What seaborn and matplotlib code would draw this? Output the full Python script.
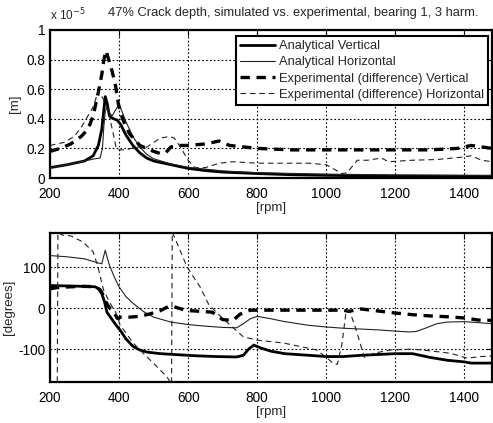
import matplotlib
matplotlib.use("Agg")
import matplotlib.pyplot as plt
import seaborn as sns
import pandas as pd

# ---------------- data ----------------
# amplitude (units of 1e-5 m) vs rpm
rpm_av_amp = [200, 250, 300, 325, 340, 350, 355, 360, 366, 372, 380, 395, 405, 420, 440, 460, 480, 500, 550, 600, 650, 700, 800, 900, 1000, 1100, 1200, 1300, 1400, 1480]
av_amp = [0.07, 0.09, 0.115, 0.15, 0.22, 0.33, 0.44, 0.55, 0.5, 0.42, 0.405, 0.39, 0.36, 0.29, 0.22, 0.17, 0.135, 0.115, 0.09, 0.065, 0.05, 0.04, 0.03, 0.022, 0.018, 0.015, 0.013, 0.012, 0.011, 0.01]

rpm_ah_amp = [200, 250, 300, 330, 345, 352, 356, 360, 366, 372, 380, 390, 398, 405, 420, 440, 460, 480, 500, 550, 600, 700, 800, 1000, 1200, 1480]
ah_amp = [0.07, 0.09, 0.115, 0.13, 0.135, 0.2, 0.35, 0.45, 0.48, 0.44, 0.42, 0.46, 0.49, 0.47, 0.38, 0.28, 0.21, 0.16, 0.13, 0.095, 0.072, 0.048, 0.036, 0.026, 0.021, 0.018]

rpm_ev_amp = [200, 230, 260, 290, 310, 325, 340, 350, 356, 362, 370, 380, 390, 398, 410, 430, 460, 480, 500, 520, 535, 550, 575, 600, 650, 690, 720, 800, 900, 1000, 1100, 1200, 1300, 1380, 1420, 1480]
ev_amp = [0.18, 0.2, 0.23, 0.28, 0.33, 0.42, 0.58, 0.7, 0.8, 0.86, 0.8, 0.72, 0.62, 0.5, 0.4, 0.3, 0.22, 0.2, 0.18, 0.165, 0.17, 0.21, 0.22, 0.22, 0.23, 0.25, 0.22, 0.2, 0.19, 0.19, 0.19, 0.19, 0.19, 0.2, 0.22, 0.2]

rpm_eh_amp = [200, 240, 270, 290, 310, 325, 340, 355, 370, 383, 392, 400, 420, 450, 475, 500, 520, 545, 560, 580, 600, 620, 650, 690, 730, 800, 860, 950, 1000, 1030, 1045, 1060, 1090, 1120, 1160, 1180, 1250, 1320, 1390, 1420, 1450, 1480]
eh_amp = [0.22, 0.24, 0.28, 0.34, 0.42, 0.48, 0.59, 0.53, 0.44, 0.3, 0.2, 0.19, 0.19, 0.21, 0.2, 0.24, 0.27, 0.28, 0.27, 0.2, 0.12, 0.07, 0.07, 0.1, 0.11, 0.1, 0.1, 0.1, 0.09, 0.05, 0.03, 0.035, 0.12, 0.12, 0.135, 0.11, 0.12, 0.125, 0.14, 0.15, 0.12, 0.11]

# phase (degrees) vs rpm
rpm_av_ph = [200, 250, 300, 330, 340, 350, 358, 365, 375, 390, 405, 420, 440, 460, 480, 520, 560, 620, 680, 740, 760, 775, 790, 810, 840, 880, 950, 1000, 1050, 1100, 1200, 1250, 1300, 1350, 1400, 1420, 1480]
av_ph = [55, 54, 53, 52, 48, 35, 15, -10, -22, -40, -56, -75, -93, -102, -107, -111, -113, -116, -118, -119, -115, -100, -90, -97, -105, -111, -115, -118, -118, -115, -111, -111, -120, -127, -131, -134, -134]

rpm_ah_ph = [200, 250, 300, 340, 350, 355, 360, 365, 372, 385, 400, 420, 440, 470, 500, 550, 600, 650, 700, 740, 760, 780, 800, 840, 880, 950, 1000, 1050, 1100, 1150, 1200, 1240, 1260, 1290, 1320, 1350, 1400, 1450, 1480]
ah_ph = [128, 125, 120, 110, 108, 125, 141, 125, 105, 78, 52, 28, 12, -8, -22, -34, -40, -44, -47, -48, -38, -26, -20, -26, -33, -42, -46, -49, -51, -53, -56, -58, -57, -48, -38, -34, -33, -36, -38]

rpm_ev_ph = [200, 220, 260, 300, 330, 345, 355, 365, 375, 385, 395, 405, 430, 460, 490, 520, 545, 560, 580, 600, 640, 670, 700, 730, 750, 780, 850, 950, 1000, 1050, 1065, 1100, 1150, 1200, 1250, 1300, 1350, 1400, 1440, 1480]
ev_ph = [47, 50, 52, 53, 52, 45, 30, 10, -2, -10, -25, -22, -22, -20, -14, -6, 5, 3, -2, -6, -8, -10, -28, -30, -15, -5, -5, -5, -5, -5, -8, -2, -7, -12, -16, -19, -21, -24, -29, -30]

rpm_eh_ph = [200, 221, 223, 235, 260, 296, 325, 340, 355, 374, 390, 403, 441, 470, 510, 539, 552, 554, 568, 597, 635, 660, 700, 760, 800, 876, 973, 1020, 1032, 1045, 1058, 1068, 1084, 1098, 1110, 1137, 1186, 1250, 1300, 1360, 1408, 1446, 1480]
eh_ph = [-185, -185, 185, 178, 176, 161, 137, 97, 44, 12, -10, -41, -85, -110, -143, -168, -185, 185, 158, 100, 51, 8, -25, -70, -78, -85, -102, -134, -137, -90, -5, -8, -46, -85, -120, -110, -102, -100, -104, -110, -122, -118, -117]

labels = ["Analytical Vertical", "Analytical Horizontal",
          "Experimental (difference) Vertical", "Experimental (difference) Horizontal"]
xticks = [200, 400, 600, 800, 1000, 1200, 1400]
amp_yticks = [0, 0.2, 0.4, 0.6, 0.8, 1]
amp_yticklabels = ["0", "0.2", "0.4", "0.6", "0.8", "1"]
ph_yticks = [-100, 0, 100]

# ---------------- style ----------------
sns.set_style("white")
plt.rcParams["font.family"] = ["Liberation Sans", "DejaVu Sans"]
plt.rcParams["xtick.direction"] = "in"
plt.rcParams["ytick.direction"] = "in"
plt.rcParams["axes.unicode_minus"] = False

styles = [
    dict(lw=2.0, ls="-", color="black"),
    dict(lw=0.8, ls="-", color="#222222"),
    dict(lw=2.4, ls=(0, (2.8, 2.0)), color="black"),
    dict(lw=0.8, ls=(0, (5, 3.5)), color="#222222"),
]

fig = plt.figure(figsize=(4.93, 4.23), dpi=100)
ax1 = fig.add_axes([50/493, 1-178/423, 442/493, 148/423])
ax2 = fig.add_axes([50/493, 1-382/423, 442/493, 149/423])

amp_sets = [(rpm_av_amp, av_amp), (rpm_ah_amp, ah_amp), (rpm_ev_amp, ev_amp), (rpm_eh_amp, eh_amp)]
ph_sets = [(rpm_av_ph, av_ph), (rpm_ah_ph, ah_ph), (rpm_ev_ph, ev_ph), (rpm_eh_ph, eh_ph)]

for (xs, ys), lab, st in zip(amp_sets, labels, styles):
    df = pd.DataFrame({"rpm": xs, "val": ys})
    sns.lineplot(data=df, x="rpm", y="val", ax=ax1, label=lab, sort=False,
                 color=st["color"], linewidth=st["lw"], linestyle=st["ls"])
for (xs, ys), st in zip(ph_sets, styles):
    df = pd.DataFrame({"rpm": xs, "val": ys})
    sns.lineplot(data=df, x="rpm", y="val", ax=ax2, sort=False,
                 color=st["color"], linewidth=st["lw"], linestyle=st["ls"])

for ax in (ax1, ax2):
    ax.set_xlim(200, 1480)
    ax.set_xticks(xticks)
    ax.tick_params(axis="both", labelsize=9.8, length=4, width=0.8,
                   top=True, right=True, colors="black")
    ax.tick_params(axis="x", pad=6.5)
    ax.tick_params(axis="y", pad=3.5)
    ax.grid(True, color="black", linestyle=(0, (1.5, 2)), linewidth=0.8)
    for sp in ax.spines.values():
        sp.set_linewidth(1.6)
        sp.set_color("black")
    ax.set_xlabel("[rpm]", fontsize=9.5, labelpad=1)

ax1.set_ylim(0, 1)
ax1.set_yticks(amp_yticks)
ax1.set_yticklabels(amp_yticklabels)
ax1.set_ylabel("[m]", fontsize=9.5, labelpad=4)

ax2.set_ylim(-180, 183)
ax2.set_yticks(ph_yticks)
ax2.set_ylabel("[degrees]", fontsize=9.5, labelpad=2)

leg = ax1.legend(loc="upper right", bbox_to_anchor=(0.997, 0.975), fontsize=9.3,
                 frameon=True, fancybox=False, edgecolor="black", framealpha=1,
                 handlelength=2.7, borderpad=0.3, labelspacing=0.32, handletextpad=0.35,
                 borderaxespad=0.2)
leg.get_frame().set_linewidth(1.5)

fig.text(50/493, 1-20/423, r"x 10$^{-5}$", fontsize=8.5, ha="left", va="baseline")
fig.text(293/493, 1-16/423, "47% Crack depth, simulated vs. experimental, bearing 1, 3 harm.",
         fontsize=9.3, ha="center", va="baseline")

fig.savefig("out.png", dpi=100)
